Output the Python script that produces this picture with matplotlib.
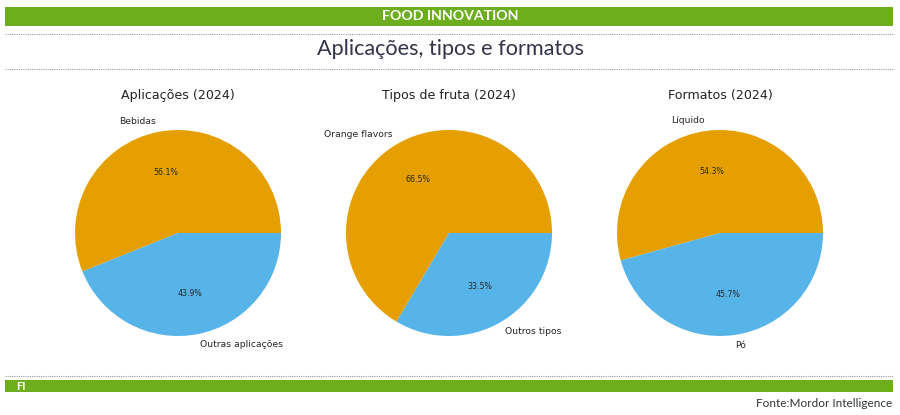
import numpy as np
import matplotlib.pyplot as plt
from matplotlib.patches import Rectangle
from matplotlib.lines import Line2D

# dados
titulos = ['Aplicações (2024)', 'Tipos de fruta (2024)', 'Formatos (2024)']
rotulos = [['Bebidas', 'Outras aplicações'],
           ['Orange flavors', 'Outros tipos'],
           ['Líquido', 'Pó']]
valores = [[56.1, 43.9],
           [66.5, 33.5],
           [54.3, 45.7]]
cores = ['#E69F00', '#56B4E9']

W, H = 900, 415
fig = plt.figure(figsize=(9, 4.15), dpi=100)

def fx(px):
    return px / W

def fy(py):
    return 1 - py / H

# barra verde de cima
verde = '#6DAE1F'
fig.patches.append(Rectangle((fx(5), fy(26)), fx(888), 19 / H, transform=fig.transFigure,
                             facecolor=verde, edgecolor='none'))
fig.text(0.5, fy(16.5), 'FOOD INNOVATION', color='white', fontsize=10.2, fontweight='bold',
         ha='center', va='center', family='Lato')

for y in [34, 69, 376]:
    fig.lines.append(Line2D([fx(5), fx(893)], [fy(y), fy(y)], transform=fig.transFigure,
                            color='#999999', lw=0.8, ls=(0, (1, 1))))

fig.text(0.5, fy(49), 'Aplicações, tipos e formatos', color='#33334a', fontsize=15.6,
         ha='center', va='center', family='Lato')

# barra verde de baixo
fig.patches.append(Rectangle((fx(5), fy(392)), fx(888), 12 / H, transform=fig.transFigure,
                             facecolor=verde, edgecolor='none'))
fig.text(fx(16), fy(386), 'FI', color='white', fontsize=8, fontweight='bold',
         ha='left', va='center', family='Lato')
fig.text(fx(892), fy(403), 'Fonte:Mordor Intelligence', color='#333333', fontsize=8.5,
         ha='right', va='center', family='Lato')

# pizzas
centros = [178, 449, 720]
raio = 103
for i in range(3):
    cx = centros[i]
    ax = fig.add_axes([fx(cx - raio), fy(233 + raio), 2 * raio / W, 2 * raio / H])
    ax.pie(valores[i], labels=rotulos[i], colors=cores, autopct='%1.1f%%',
           textprops={'fontsize': 6.7, 'color': '#262626'})
    for t in ax.texts:
        if '%' in t.get_text():
            t.set_fontsize(5.7)
    ax.set_xlim(-1, 1)
    ax.set_ylim(-1, 1)
    fig.text(fx(cx), fy(96), titulos[i], ha='center', va='center', fontsize=9.1, color='#222222')

fig.savefig('out.png', dpi=100)
